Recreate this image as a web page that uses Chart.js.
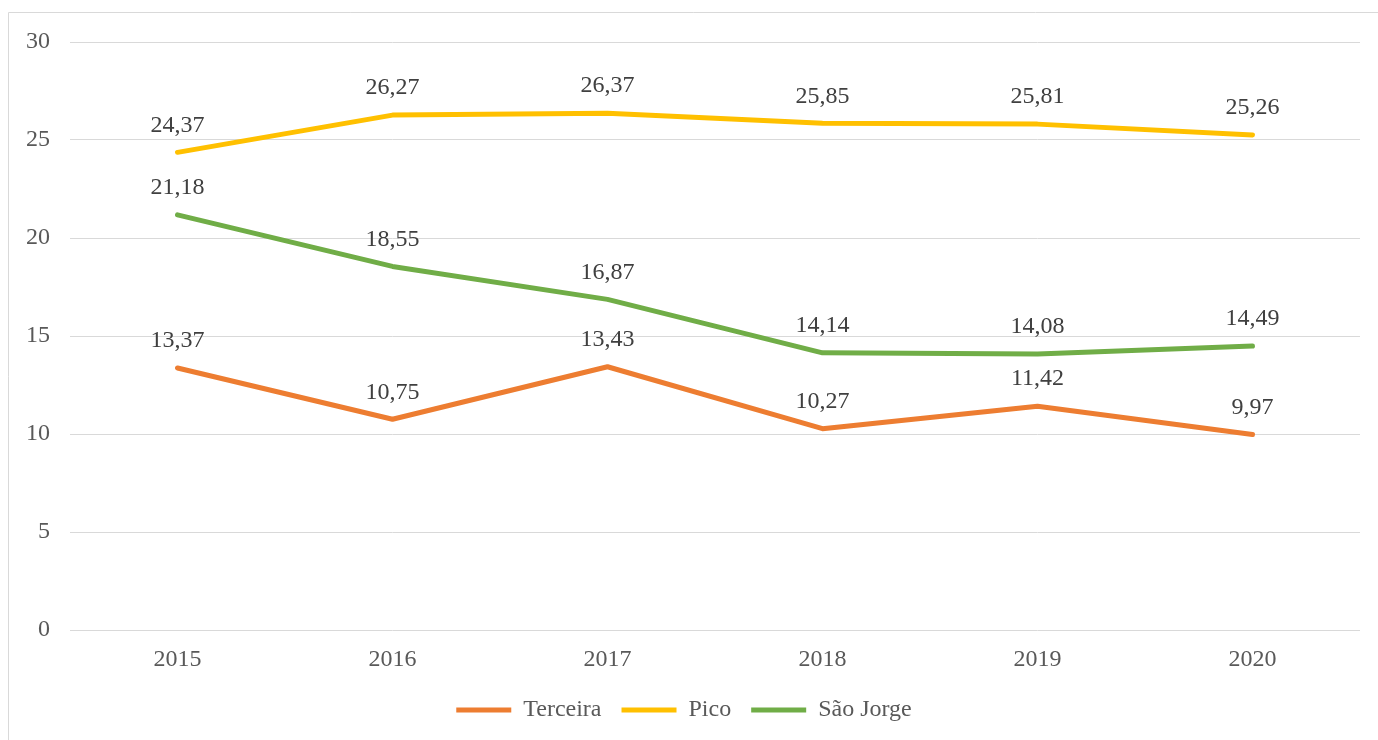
<!DOCTYPE html>
<html>
<head>
<meta charset="utf-8">
<script src="https://cdn.jsdelivr.net/npm/chart.js@4"></script>
<style>
  html, body { margin: 0; padding: 0; background: #fff; }
  #wrap { position: relative; width: 1378px; height: 740px; }
</style>
</head>
<body>
<div id="wrap"><canvas id="chart" width="1378" height="740"></canvas></div>
<script>
const years = ['2015', '2016', '2017', '2018', '2019', '2020'];
const terceira = [13.37, 10.75, 13.43, 10.27, 11.42, 9.97];
const pico = [24.37, 26.27, 26.37, 25.85, 25.81, 25.26];
const saoJorge = [21.18, 18.55, 16.87, 14.14, 14.08, 14.49];

const FONT = "'Liberation Serif', 'Times New Roman', serif";

// borda do gráfico (só topo e esquerda visíveis)
const frame = {
    id: 'frame',
    beforeDraw(chart) {
        const ctx = chart.ctx;
        ctx.save();
        ctx.strokeStyle = '#d9d9d9';
        ctx.lineWidth = 1;
        ctx.beginPath();
        ctx.moveTo(8.5, 740);
        ctx.lineTo(8.5, 12.5);
        ctx.lineTo(1378, 12.5);
        ctx.stroke();
        ctx.restore();
    }
};

// rótulos de valores por cima dos pontos
const valueLabels = {
    id: 'valueLabels',
    afterDatasetsDraw(chart) {
        const ctx = chart.ctx;
        ctx.save();
        ctx.font = '24px ' + FONT;
        ctx.fillStyle = '#404040';
        ctx.textAlign = 'center';
        ctx.textBaseline = 'middle';
        chart.data.datasets.forEach((ds, i) => {
            chart.getDatasetMeta(i).data.forEach((pt, j) => {
                const txt = ds.data[j].toFixed(2).replace('.', ',');
                ctx.fillText(txt, pt.x, pt.y - 27);
            });
        });
        ctx.restore();
    }
};

const lineStyle = {
    borderWidth: 5,
    borderCapStyle: 'round',
    borderJoinStyle: 'round',
    pointRadius: 0,
    pointHoverRadius: 0,
    tension: 0,
    fill: false
};

new Chart(document.getElementById('chart'), {
    type: 'line',
    data: {
        labels: years,
        datasets: [
            { label: 'Terceira', data: terceira, borderColor: '#ED7D31', backgroundColor: '#ED7D31', ...lineStyle },
            { label: 'Pico', data: pico, borderColor: '#FFC000', backgroundColor: '#FFC000', ...lineStyle },
            { label: 'São Jorge', data: saoJorge, borderColor: '#70AD47', backgroundColor: '#70AD47', ...lineStyle }
        ]
    },
    options: {
        responsive: false,
        animation: false,
        layout: { padding: { left: 8, right: 18, top: 42, bottom: 8 } },
        plugins: {
            legend: {
                position: 'bottom',
                labels: {
                    usePointStyle: true,
                    pointStyle: 'line',
                    pointStyleWidth: 55,
                    boxHeight: 24,
                    padding: 20,
                    color: '#595959',
                    font: { family: FONT, size: 24 }
                }
            },
            tooltip: { enabled: false }
        },
        scales: {
            x: {
                offset: true,
                grid: { display: false },
                border: { display: false },
                ticks: { color: '#595959', padding: 7, font: { family: FONT, size: 24 } },
                afterFit(scale) { scale.height = 48; }
            },
            y: {
                min: 0,
                max: 30,
                grid: { color: '#d9d9d9', lineWidth: 1, drawTicks: false },
                border: { display: false },
                ticks: { stepSize: 5, color: '#595959', padding: 20, font: { family: FONT, size: 24 } },
                afterFit(scale) { scale.width = 62; }
            }
        }
    },
    plugins: [frame, valueLabels]
});
</script>
</body>
</html>
